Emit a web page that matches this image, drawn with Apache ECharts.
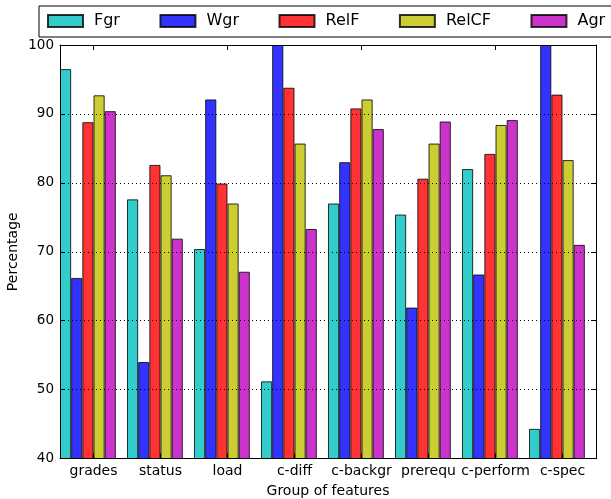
<!DOCTYPE html>
<html>
<head>
<meta charset="utf-8">
<script src="https://cdn.jsdelivr.net/npm/echarts@6/dist/echarts.min.js"></script>
<style>
html,body{margin:0;padding:0;background:#fff;}
#chart{width:611px;height:499px;}
</style>
</head>
<body>
<div id="chart"></div>
<script>
const categories = ['grades', 'status', 'load', 'c-diff', 'c-backgr', 'prerequ', 'c-perform', 'c-spec'];
const seriesNames = ['Fgr', 'Wgr', 'RelF', 'RelCF', 'Agr'];
const fgr   = [96.5, 77.6, 70.4, 51.2, 77.0, 75.4, 82.0, 44.3];
const wgr   = [66.2, 54.0, 92.1, 100.0, 83.0, 61.9, 66.7, 100.0];
const relF  = [88.8, 82.6, 79.9, 93.8, 90.8, 80.6, 84.2, 92.8];
const relCF = [92.7, 81.1, 77.0, 85.7, 92.1, 85.7, 88.4, 83.3];
const agr   = [90.4, 71.9, 67.1, 73.3, 87.8, 88.9, 89.1, 71.0];
const yTicks = [40, 50, 60, 70, 80, 90, 100];

const seriesValues = [fgr, wgr, relF, relCF, agr];
const colors = ['#33cccc', '#3333ff', '#ff3333', '#cccc33', '#cc33cc'];
const FONT = 'DejaVu Sans';

const chart = echarts.init(document.getElementById('chart'), null, {renderer: 'canvas'});
const plot = {left: 60, right: 15, top: 45, bottom: 40.5};
const shift = 67 / 12; // bars start at the left of each band

chart.setOption({
  animation: false,
  backgroundColor: '#fff',
  textStyle: {fontFamily: FONT, color: '#000'},
  legend: {
    data: seriesNames,
    left: 39, top: 6,
    width: 700,
    padding: [7, 60, 8, 8],
    itemGap: 39.5,
    itemWidth: 35, itemHeight: 12,
    borderColor: '#000', borderWidth: 1,
    backgroundColor: '#fff',
    icon: 'rect',
    formatter: function (n) { return '{sp| }' + n; },
    textStyle: {
      fontFamily: FONT, fontSize: 16, color: '#000',
      rich: {sp: {width: 6, fontSize: 16}}
    }
  },
  grid: [
    {left: plot.left, right: plot.right, top: plot.top, bottom: plot.bottom, containLabel: false, outerBoundsMode: 'none'},
    {left: plot.left - shift, right: plot.right + shift, top: plot.top, bottom: plot.bottom, containLabel: false, outerBoundsMode: 'none'}
  ],
  xAxis: [
    {
      type: 'category', gridIndex: 0, position: 'bottom', data: categories,
      boundaryGap: true,
      axisLine: {show: true, lineStyle: {color: '#000', width: 1}},
      axisTick: {show: true, inside: true, length: 5, alignWithLabel: true, lineStyle: {color: '#000'}},
      axisLabel: {fontFamily: FONT, fontSize: 14, color: '#000', margin: 6, interval: 0},
      name: 'Group of features', nameLocation: 'middle', nameGap: 26,
      nameTextStyle: {fontFamily: FONT, fontSize: 14, color: '#000'},
      z: 3
    },
    {
      type: 'category', gridIndex: 0, position: 'top', data: categories,
      boundaryGap: true,
      axisLine: {show: true, lineStyle: {color: '#000', width: 1}},
      axisTick: {show: true, inside: true, length: 5, alignWithLabel: true, lineStyle: {color: '#000'}},
      axisLabel: {show: false},
      z: 3
    },
    {
      type: 'category', gridIndex: 1, data: categories, show: false
    }
  ],
  yAxis: [
    {
      type: 'value', gridIndex: 0, position: 'left', min: yTicks[0], max: yTicks[yTicks.length - 1], interval: 10,
      axisLine: {show: true, lineStyle: {color: '#000', width: 1}},
      axisTick: {show: true, inside: true, length: 5, lineStyle: {color: '#000'}},
      axisLabel: {fontFamily: FONT, fontSize: 13.5, color: '#000', margin: 6},
      splitLine: {show: true, lineStyle: {color: '#000', type: [1, 3], width: 1}},
      name: 'Percentage', nameLocation: 'middle', nameGap: 40, nameRotate: 90,
      nameMoveOverlap: false,
      nameTextStyle: {fontFamily: FONT, fontSize: 14, color: '#000'},
      z: 3
    },
    {
      type: 'value', gridIndex: 0, position: 'right', min: yTicks[0], max: yTicks[yTicks.length - 1], interval: 10,
      axisLine: {show: true, lineStyle: {color: '#000', width: 1}},
      axisTick: {show: true, inside: true, length: 5, lineStyle: {color: '#000'}},
      axisLabel: {show: false},
      splitLine: {show: false},
      z: 3
    },
    {
      type: 'value', gridIndex: 1, min: yTicks[0], max: yTicks[yTicks.length - 1], show: false,
      splitLine: {show: false}
    }
  ],
  series: seriesNames.map((name, i) => ({
    name: name,
    type: 'bar',
    xAxisIndex: 2, yAxisIndex: 2,
    data: seriesValues[i],
    barWidth: '16.667%',
    barGap: '0%',
    clip: true,
    itemStyle: {color: colors[i], borderColor: 'rgba(0,0,0,0.8)', borderWidth: 1}
  }))
});
</script>
</body>
</html>
